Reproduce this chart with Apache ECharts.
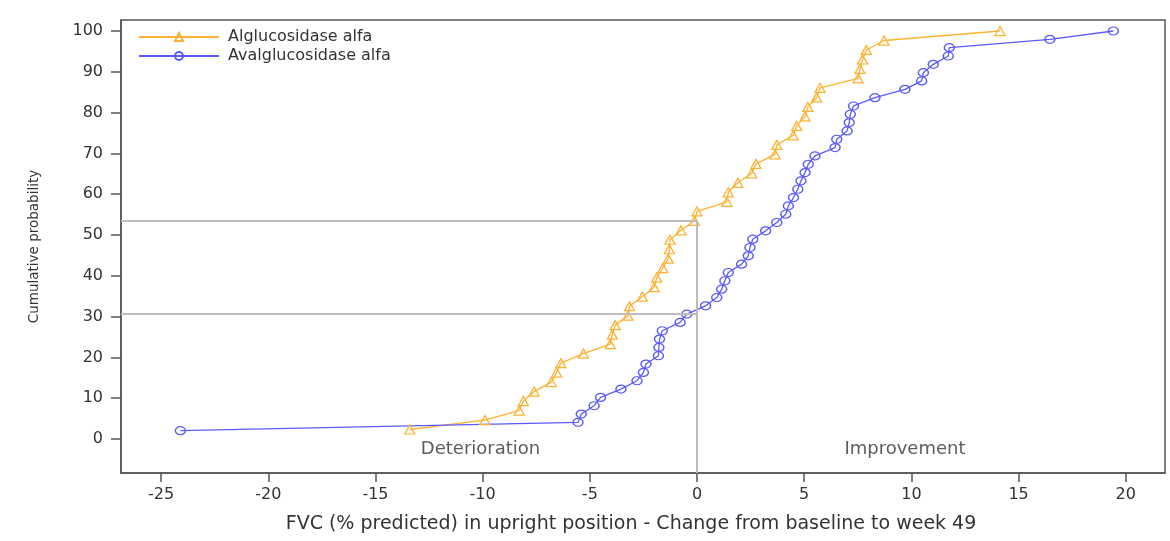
<!DOCTYPE html>
<html>
<head>
<meta charset="utf-8">
<script src="https://cdn.jsdelivr.net/npm/echarts@6/dist/echarts.min.js"></script>
<style>
html,body{margin:0;padding:0;background:#fff;}
#chart{width:1170px;height:541px;}
</style>
</head>
<body>
<div id="chart"></div>
<script>
// ---- data ----
const seriesNames = ['Alglucosidase alfa', 'Avalglucosidase alfa'];

const algX = [-13.4, -9.9, -8.3, -8.1, -7.6, -6.8, -6.55, -6.35, -5.3, -4.05,
  -3.95, -3.82, -3.22, -3.15, -2.55, -2.0, -1.88, -1.6, -1.34, -1.29,
  -1.26, -0.75, -0.12, 0.0, 1.39, 1.46, 1.9, 2.55, 2.75, 3.64,
  3.72, 4.49, 4.65, 5.04, 5.17, 5.58, 5.74, 7.52, 7.6, 7.72,
  7.9, 8.72, 14.13];
const algY = [2.33, 4.65, 6.98, 9.30, 11.63, 13.95, 16.28, 18.60, 20.93, 23.26,
  25.58, 27.91, 30.23, 32.56, 34.88, 37.21, 39.53, 41.86, 44.19, 46.51,
  48.84, 51.16, 53.49, 55.81, 58.14, 60.47, 62.79, 65.12, 67.44, 69.77,
  72.09, 74.42, 76.74, 79.07, 81.40, 83.72, 86.05, 88.37, 90.70, 93.02,
  95.35, 97.67, 100];

const avalX = [-24.1, -5.55, -5.4, -4.8, -4.5, -3.55, -2.8, -2.5, -2.38, -1.8,
  -1.78, -1.75, -1.62, -0.79, -0.48, 0.4, 0.92, 1.15, 1.3, 1.46,
  2.08, 2.39, 2.47, 2.6, 3.2, 3.72, 4.14, 4.26, 4.5, 4.7,
  4.85, 5.04, 5.19, 5.5, 6.44, 6.52, 7.0, 7.1, 7.15, 7.3,
  8.3, 9.7, 10.48, 10.56, 11.02, 11.72, 11.77, 16.46, 19.42];
const avalY = [2.04, 4.08, 6.12, 8.16, 10.20, 12.24, 14.29, 16.33, 18.37, 20.41,
  22.45, 24.49, 26.53, 28.57, 30.61, 32.65, 34.69, 36.73, 38.78, 40.82,
  42.86, 44.90, 46.94, 48.98, 51.02, 53.06, 55.10, 57.14, 59.18, 61.22,
  63.27, 65.31, 67.35, 69.39, 71.43, 73.47, 75.51, 77.55, 79.59, 81.63,
  83.67, 85.71, 87.76, 89.80, 91.84, 93.88, 95.92, 97.96, 100];

const xTicks = [-25, -20, -15, -10, -5, 0, 5, 10, 15, 20];
const yTicks = [0, 10, 20, 30, 40, 50, 60, 70, 80, 90, 100];

const refLevels = [53.5, 30.6];   // horizontal reference levels
const refX = 0;                   // vertical reference at zero change

const regionLabels = ['Deterioration', 'Improvement'];
const regionX = [-10.1, 9.7];
const regionY = -2.45;

const X_MIN = -26.87, X_MAX = 21.83;
const Y_MIN = -8.33, Y_MAX = 102.7;

// ---- chart ----
const FONT = 'DejaVu Sans';
const ORANGE = '#FDB233';
const BLUE = '#5A5AFF';
const TXT = '#333333';
const FRAME = '#555555';

const chart = echarts.init(document.getElementById('chart'), null, {renderer: 'canvas'});

const option = {
  animation: false,
  backgroundColor: '#ffffff',
  grid: {
    left: 121, right: 5, top: 20, bottom: 68,
    show: true, borderColor: FRAME, borderWidth: 1.5, backgroundColor: 'transparent'
  },
  legend: {
    data: seriesNames,
    orient: 'vertical',
    left: 133, top: 24,
    itemWidth: 80, itemHeight: 10, itemGap: 3,
    textStyle: {fontFamily: FONT, fontSize: 16, color: TXT, padding: [0, 0, 0, 4]}
  },
  xAxis: {
    type: 'value', min: X_MIN, max: X_MAX,
    name: 'FVC (% predicted) in upright position - Change from baseline to week 49',
    nameLocation: 'middle', nameGap: 42,
    nameTextStyle: {fontFamily: FONT, fontSize: 19, color: TXT, padding: [0, 24, 0, 0]},
    splitLine: {show: false},
    axisLine: {show: true, onZero: false, lineStyle: {color: FRAME, width: 1.5}},
    axisTick: {show: true, inside: false, length: 9, customValues: xTicks,
      lineStyle: {color: FRAME, width: 1.5}},
    axisLabel: {customValues: xTicks, margin: 14, fontFamily: FONT, fontSize: 16, color: TXT}
  },
  yAxis: {
    type: 'value', min: Y_MIN, max: Y_MAX,
    name: 'Cumulative probability',
    nameLocation: 'middle', nameGap: 80,
    nameTextStyle: {fontFamily: FONT, fontSize: 13.5, color: TXT},
    splitLine: {show: false},
    axisLine: {show: true, onZero: false, lineStyle: {color: FRAME, width: 1.5}},
    axisTick: {show: true, inside: false, length: 10, customValues: yTicks,
      lineStyle: {color: FRAME, width: 1.5}},
    axisLabel: {customValues: yTicks, margin: 18, fontFamily: FONT, fontSize: 16, color: TXT}
  },
  series: [
    {
      name: 'ref',
      type: 'line',
      data: [],
      silent: true,
      z: 1,
      markLine: {
        silent: true,
        symbol: 'none',
        animation: false,
        label: {show: false},
        lineStyle: {color: '#BDBDBD', width: 2, type: 'solid'},
        emphasis: {disabled: true},
        data: [
          [{coord: [X_MIN, refLevels[0]]}, {coord: [refX, refLevels[0]]}],
          [{coord: [X_MIN, refLevels[1]]}, {coord: [refX, refLevels[1]]}],
          [{coord: [refX, Y_MIN]}, {coord: [refX, refLevels[0]]}]
        ]
      }
    },
    {
      name: seriesNames[0],
      type: 'line',
      color: ORANGE,
      data: algX.map((x, i) => [x, algY[i]]),
      symbol: 'triangle',
      symbolSize: [10, 9],
      showSymbol: true,
      lineStyle: {color: ORANGE, width: 1.3},
      itemStyle: {color: 'rgba(255,255,255,0)', borderColor: ORANGE, borderWidth: 1.3},
      emphasis: {disabled: true},
      z: 3
    },
    {
      name: seriesNames[1],
      type: 'line',
      color: BLUE,
      data: avalX.map((x, i) => [x, avalY[i]]),
      symbol: 'circle',
      symbolSize: [10, 8],
      showSymbol: true,
      lineStyle: {color: BLUE, width: 1.3},
      itemStyle: {color: 'rgba(255,255,255,0)', borderColor: BLUE, borderWidth: 1.3},
      emphasis: {disabled: true},
      z: 3
    },
    {
      name: 'regions',
      type: 'scatter',
      silent: true,
      symbolSize: 1,
      itemStyle: {color: 'rgba(0,0,0,0)'},
      data: regionLabels.map((t, i) => ({name: t, value: [regionX[i], regionY]})),
      label: {show: true, position: 'inside', formatter: '{b}',
        fontFamily: FONT, fontSize: 18, color: TXT},
      z: 4
    }
  ]
};
chart.setOption(option);
</script>
</body>
</html>
